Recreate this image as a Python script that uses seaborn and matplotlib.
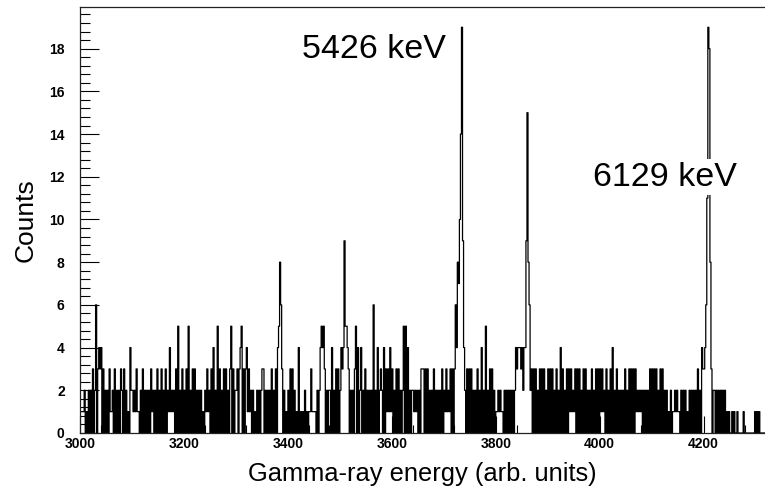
import numpy as np
import pandas as pd
import matplotlib
matplotlib.use("Agg")
import matplotlib.pyplot as plt
from matplotlib.ticker import MultipleLocator
import seaborn as sns

sns.set_style("white")
plt.rcParams["font.family"] = ["Liberation Sans", "DejaVu Sans"]
plt.rcParams["text.color"] = "black"
plt.rcParams["axes.labelcolor"] = "black"
plt.rcParams["xtick.color"] = "black"
plt.rcParams["ytick.color"] = "black"

# counts per 2-unit channel, one char per bin (base 36: a=10 ... j=19)
bin_start = 3000
bin_width = 2
counts_3000 = "1111201020" "2030260343" "4030202031" "1203020203" "2030201042"
counts_3100 = "2121311020" "3020202031" "2020302030" "2030214121" "2030502030"
counts_3200 = "2030502030" "3020202010" "2131203040" "2050302030" "3020350302"
counts_3300 = "2303450303" "4131202010" "2020233020" "2020302030" "4586302010"
counts_3400 = "2030302010" "4010102010" "1131111020" "2454530202" "2040203030"
counts_3500 = "2434955430" "2020350402" "4020302020" "2060204023" "2040313141"
counts_3600 = "3020303020" "2505040202" "2121202033" "3030302020" "3020202030"
counts_3700 = "2131213030" "36487aej94" "2030303020" "2030204020" "5020303020"
counts_3800 = "1121211020" "2020202024" "3444342449" "f862303030" "2030303020"
counts_3900 = "3030302030" "2040302030" "3131213030" "3020303020" "2030203030"
counts_4000 = "3131203020" "3040203020" "2020302030" "3030312121" "2020202030"
counts_4100 = "3030302030" "3020201020" "1121211020" "2020102020" "2020302043"
counts_4200 = "346bji8302" "2020202020" "2010100101" "0010000010" "0000000001"
counts_4300 = "0101000000"

peak_labels = ["5426 keV", "6129 keV"]

segments = [counts_3000, counts_3100, counts_3200, counts_3300, counts_3400,
            counts_3500, counts_3600, counts_3700, counts_3800, counts_3900,
            counts_4000, counts_4100, counts_4200, counts_4300]
counts = [int(c, 36) for c in "".join(segments)]
edges = [bin_start + bin_width * i for i in range(len(counts) + 1)]
df = pd.DataFrame({"energy": [e + bin_width / 2 for e in edges[:-1]],
                   "counts": counts})

fig = plt.figure(figsize=(7.65, 4.96), dpi=100)
ax = fig.add_axes([80 / 765, 1 - 433 / 496, 1 - 80 / 765, 426 / 496])

sns.histplot(data=df, x="energy", weights="counts", bins=edges,
             element="step", fill=False, color="black", linewidth=0.9, ax=ax)

ax.set_xlim(3000, 4318)
ax.set_ylim(0, 19.95)
ax.xaxis.set_major_locator(MultipleLocator(200))
ax.xaxis.set_minor_locator(MultipleLocator(40))
ax.yaxis.set_major_locator(MultipleLocator(2))
ax.yaxis.set_minor_locator(MultipleLocator(0.4))
ax.tick_params(left=True, bottom=True, which="both")
ax.tick_params(axis="y", which="major", direction="in", length=14, width=0.8, pad=11)
ax.tick_params(axis="y", which="minor", direction="in", length=7, width=0.8)
ax.tick_params(axis="x", which="major", direction="in", length=12, width=0.8, pad=3)
ax.tick_params(axis="x", which="minor", direction="in", length=6, width=0.8)
for lab in ax.get_xticklabels() + ax.get_yticklabels():
    lab.set_fontweight("bold")
    lab.set_fontsize(10)

for side in ["left", "bottom", "top"]:
    ax.spines[side].set_color("#222222")
    ax.spines[side].set_linewidth(0.9)
ax.spines["right"].set_visible(False)

ax.set_xlabel("Gamma-ray energy (arb. units)", fontsize=18.4, labelpad=8)
ax.set_ylabel("Counts", fontsize=19, labelpad=8)

ax.text(3427, 17.57, peak_labels[0], fontsize=24.5, ha="left", va="baseline")
ax.text(3987, 11.59, peak_labels[1], fontsize=24.5, ha="left", va="baseline",
        bbox=dict(facecolor="white", edgecolor="none", pad=2))

fig.savefig("out.png", dpi=100)
